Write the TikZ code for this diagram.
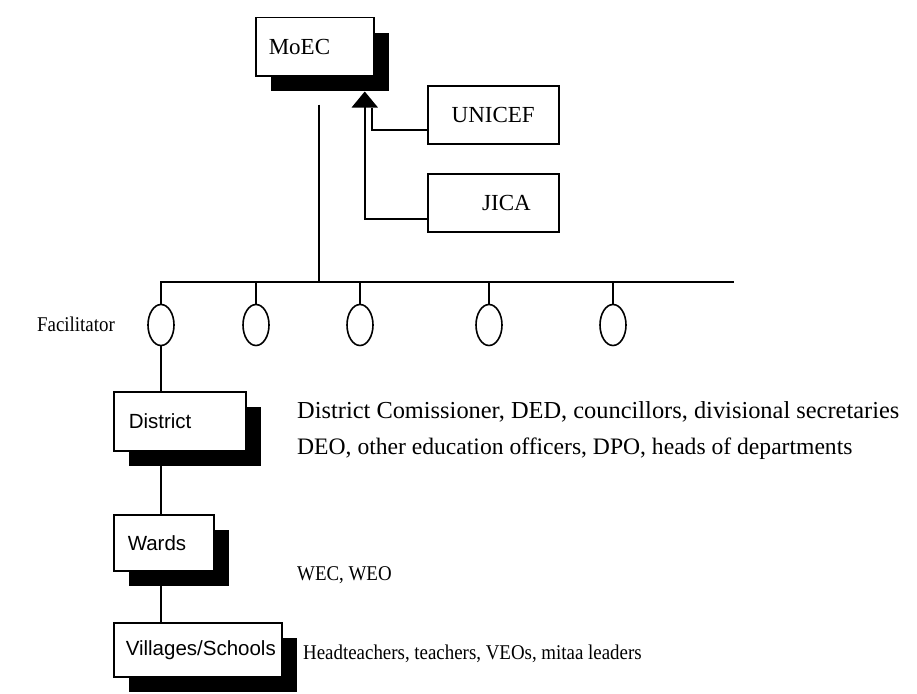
\documentclass[tikz,border=0pt]{standalone}
\usepackage{fontspec}
\setmainfont{Liberation Serif}
\setsansfont{Liberation Sans}
\usetikzlibrary{shapes.geometric,arrows.meta,shadows,calc}
\pgfdeclarelayer{background}
\pgfsetlayers{background,main}
% slightly condensed serif text
\newcommand{\narrowtext}[1]{\scalebox{0.9}[1]{#1}}
\begin{document}
\begin{tikzpicture}[x=1pt,y=-1pt,
  orgbox/.style={draw, line width=1.5pt, fill=white, anchor=north west,
    inner ysep=0pt,
    drop shadow={shadow xshift=15pt, shadow yshift=-15pt, opacity=1, fill=black}},
  plainbox/.style={draw, line width=1.5pt, fill=white, anchor=north west, inner ysep=0pt},
  serifl/.style={font=\fontsize{23}{27}\selectfont},
  serifm/.style={font=\fontsize{21}{25}\selectfont},
  sansl/.style={font=\sffamily\fontsize{20.5}{25}\selectfont},
  facil/.style={draw, ellipse, line width=1.6pt, minimum width=26pt, minimum height=41pt, inner sep=0pt},
  conn/.style={line width=1.7pt},
  busline/.style={line width=2.4pt},
  note/.style={anchor=west, inner sep=0pt}]
\useasboundingbox (0,0) rectangle (917,693);

% ministry and partners
\node[orgbox, serifl, minimum height=58pt, text width=92pt, inner xsep=13pt, align=left] (moec) at (255,17) {MoEC};
\node[plainbox, serifl, minimum width=131pt, minimum height=58pt, inner xsep=0pt] (unicef) at (427,85) {UNICEF};
\node[plainbox, serifl, minimum height=58pt, text width=75pt, inner xsep=28pt, align=right] (jica) at (427,173) {JICA};

% facilitators
\node[facil] (f1) at (161,325) {};
\node[facil] (f2) at (256,325) {};
\node[facil] (f3) at (360,325) {};
\node[facil] (f4) at (489,325) {};
\node[facil] (f5) at (613,325) {};
\node[serifm] (facilitator) at (76,324) {\narrowtext{Facilitator}};
\coordinate (busR) at (734,282);

% local levels
\node[orgbox, sansl, minimum height=59pt, text width=102pt, inner xsep=15pt, align=left] (district) at (113,391) {District};
\node[orgbox, sansl, minimum height=56pt, text width=72pt, inner xsep=14pt, align=left] (wards) at (113,514) {Wards};
\node[orgbox, sansl, minimum height=54pt, text width=144pt, inner xsep=12pt, align=left] (villages) at (113,622) {Villages/Schools};

% members at each level
\node[note, font=\fontsize{24.4}{28}\selectfont] (dmembers1) at (297,412) {District Comissioner, DED, councillors, divisional secretaries};
\node[note, font=\fontsize{23.6}{28}\selectfont] (dmembers2) at (297,449) {DEO, other education officers, DPO, heads of departments};
\node[note, serifm] (wmembers) at (297,575) {\narrowtext{WEC, WEO}};
\node[note, serifm] (vmembers) at (303,654) {\narrowtext{Headteachers, teachers, VEOs, mitaa leaders}};

\begin{pgfonlayer}{background}
  % support from partners to the ministry
  \coordinate (tip) at ($(moec.south)+(50,15)$);
  \draw[conn, -{Triangle[width=26pt,length=16pt]}] ([yshift=-16pt]jica.west) -| (tip);
  \draw[conn] ([yshift=-15pt]unicef.west) -| ($(tip)+(7,16)$);
  % ministry down to the facilitators
  \coordinate (moecfoot) at ($(moec.south)+(4,28)$);
  \draw[conn] (moecfoot) -- (moecfoot |- busR);
  \draw[busline] (f1.north) -- (f1.north |- busR) -- (busR);
  \foreach \f in {f2,f3,f4,f5}
    \draw[conn] (\f.north |- busR) -- (\f.north);
  % facilitator down through the local levels
  \draw[conn] (f1.south) -- (f1.south |- district.north);
  \draw[conn] (f1.south |- district.south) -- (f1.south |- wards.north);
  \draw[conn] (f1.south |- wards.south) -- (f1.south |- villages.north);
\end{pgfonlayer}
\end{tikzpicture}
\end{document}
